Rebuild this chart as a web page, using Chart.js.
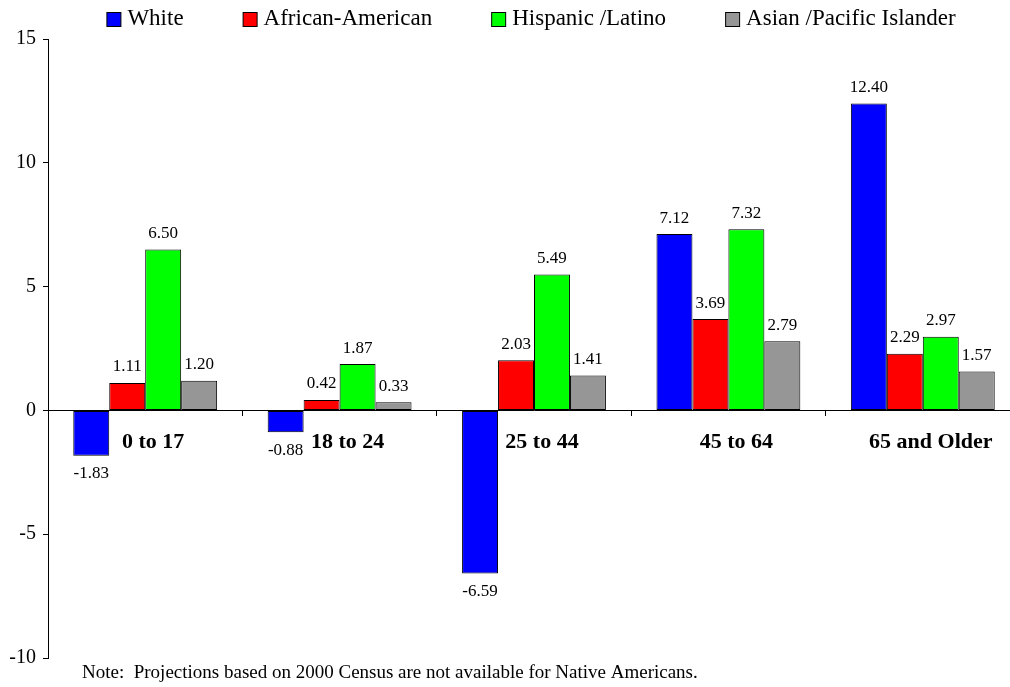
<!DOCTYPE html>
<html>
<head>
<meta charset="utf-8">
<script src="https://cdn.jsdelivr.net/npm/chart.js@4/dist/chart.umd.min.js"></script>
<style>
  html, body { margin: 0; padding: 0; background: #fff; overflow: hidden; }
  #wrap { width: 1030px; height: 687px; }
</style>
</head>
<body>
<div id="wrap"><canvas id="raceChart" width="1030" height="687"></canvas></div>
<script>
// data
const categories = ['0 to 17', '18 to 24', '25 to 44', '45 to 64', '65 and Older'];
const seriesNames = ['White', 'African-American', 'Hispanic /Latino', 'Asian /Pacific Islander'];
const white = [-1.83, -0.88, -6.59, 7.12, 12.40];
const africanAmerican = [1.11, 0.42, 2.03, 3.69, 2.29];
const hispanicLatino = [6.50, 1.87, 5.49, 7.32, 2.97];
const asianPacific = [1.20, 0.33, 1.41, 2.79, 1.57];
const yMin = -10, yMax = 15, yStep = 5;
const noteText = 'Note:  Projections based on 2000 Census are not available for Native Americans.';

const serif = '"Liberation Serif", "Times New Roman", serif';
const colors = ['#0000FF', '#FF0000', '#00FF00', '#969696'];
const seriesValues = [white, africanAmerican, hispanicLatino, asianPacific];

Chart.defaults.font.family = serif;
Chart.defaults.color = '#000';

// value labels above / below each bar
const valueLabels = {
    id: 'valueLabels',
    afterDatasetsDraw(chart) {
        const ctx = chart.ctx;
        ctx.save();
        ctx.font = '17px ' + serif;
        ctx.fillStyle = '#000';
        ctx.textAlign = 'center';
        ctx.textBaseline = 'middle';
        chart.data.datasets.forEach((ds, i) => {
            chart.getDatasetMeta(i).data.forEach((bar, j) => {
                const v = ds.data[j];
                const y = v >= 0 ? bar.y - 16 : bar.y + 18;
                ctx.fillText(v.toFixed(2), bar.x, y);
            });
        });
        ctx.restore();
    }
};

// legend row at the top, boxes with black outline
const topLegend = {
    id: 'topLegend',
    afterDraw(chart) {
        const ctx = chart.ctx;
        const area = chart.chartArea;
        const box = 14, gap = 7, spacing = 59;
        ctx.save();
        ctx.font = '23px ' + serif;
        const items = chart.data.datasets.map(ds => ({
            text: ds.label,
            color: ds.backgroundColor,
            w: box + gap + ctx.measureText(ds.label).width
        }));
        const total = items.reduce((s, it) => s + it.w, 0) + spacing * (items.length - 1);
        let x = (area.left + area.right) / 2 - 3 - total / 2;
        const cy = 19;
        ctx.textBaseline = 'middle';
        ctx.textAlign = 'left';
        items.forEach(it => {
            ctx.fillStyle = it.color;
            ctx.fillRect(x + 0.5, cy - box / 2 + 0.5, box, box);
            ctx.strokeStyle = '#000';
            ctx.lineWidth = 1;
            ctx.strokeRect(x + 0.5, cy - box / 2 + 0.5, box, box);
            ctx.fillStyle = '#000';
            ctx.fillText(it.text, x + box + gap, cy);
            x += it.w + spacing;
        });
        // footnote
        ctx.font = '19px ' + serif;
        ctx.fillText(noteText, area.left + 34, 673);
        ctx.restore();
    }
};

const ctx = document.getElementById('raceChart').getContext('2d');
new Chart(ctx, {
    type: 'bar',
    data: {
        labels: categories,
        datasets: seriesNames.map((name, i) => ({
            label: name,
            data: seriesValues[i],
            backgroundColor: colors[i],
            borderColor: '#000',
            borderWidth: 1,
            borderSkipped: false,
            categoryPercentage: 0.74,
            barPercentage: 1
        }))
    },
    options: {
        responsive: false,
        animation: false,
        layout: { padding: { top: 39, right: 10, bottom: 29, left: 0 } },
        plugins: {
            legend: { display: false },
            tooltip: { enabled: false }
        },
        scales: {
            x: {
                position: { y: 0 },
                grid: { drawOnChartArea: false, drawTicks: true, tickLength: 5, color: '#000', offset: true },
                border: { display: true, color: '#000', width: 1 },
                ticks: {
                    color: '#000',
                    font: { family: serif, size: 22, weight: 'bold' },
                    padding: 14,
                    labelOffset: 8,
                    maxRotation: 0
                }
            },
            y: {
                min: yMin,
                max: yMax,
                ticks: { stepSize: yStep, color: '#000', font: { family: serif, size: 20 }, padding: 7 },
                grid: { drawOnChartArea: false, tickLength: 5, color: '#000' },
                border: { display: true, color: '#000', width: 1 },
                afterFit(scale) { scale.width = 48; }
            }
        }
    },
    plugins: [valueLabels, topLegend]
});
</script>
</body>
</html>
